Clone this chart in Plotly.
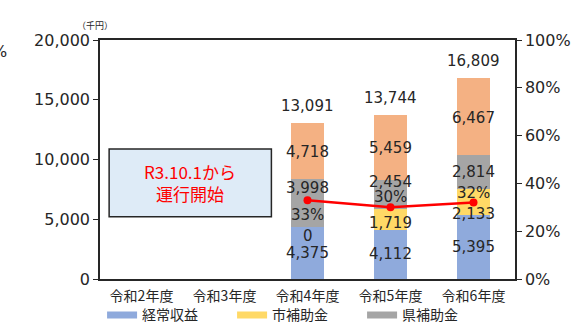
import plotly.graph_objects as go

# 年度カテゴリと収入内訳（千円）
years = ["令和2年度", "令和3年度", "令和4年度", "令和5年度", "令和6年度"]
bar_years = ["令和4年度", "令和5年度", "令和6年度"]
keijo = [4375, 4112, 5395]        # 経常収益
shi_hojo = [0, 1719, 2133]        # 市補助金
ken_hojo = [3998, 2454, 2814]     # 県補助金
sonota = [4718, 5459, 6467]       # その他
totals = [13091, 13744, 16809]
ratio = [0.33, 0.30, 0.32]        # 経常収益の割合

colors = {
    "経常収益": "#8FAADC",
    "市補助金": "#FFD966",
    "県補助金": "#A5A5A5",
    "その他": "#F4B183",
}
series = [("経常収益", keijo), ("市補助金", shi_hojo), ("県補助金", ken_hojo), ("その他", sonota)]

JP = "Noto Sans CJK JP"
NUM = "DejaVu Sans, Noto Sans CJK JP"
TXT = "#262626"

fig = go.Figure()
for name, vals in series:
    fig.add_trace(go.Bar(
        x=bar_years, y=vals, name=name, marker_color=colors[name],
        marker_line_width=0, width=0.39, showlegend=False, hoverinfo="skip",
    ))

fig.add_trace(go.Scatter(
    x=bar_years, y=ratio, yaxis="y2", mode="lines+markers",
    line=dict(color="#FF0000", width=2.5), marker=dict(color="#FF0000", size=8),
    showlegend=False, hoverinfo="skip",
))

# 凡例用（帯状の記号）
for name in ["経常収益", "市補助金", "県補助金"]:
    fig.add_trace(go.Scatter(
        x=[None], y=[None], mode="lines", name=name,
        line=dict(color=colors[name], width=7), hoverinfo="skip",
    ))

# 各区分のラベル（縦方向の微調整はピクセル単位）
seg_shift = [
    [0, -9, 15, -1],
    [0, -3, 13, -1],
    [0, -12, 0, -1],
]
ann = []
for i, yr in enumerate(bar_years):
    base = 0
    for j, (name, vals) in enumerate(series):
        v = vals[i]
        ann.append(dict(
            x=yr, y=base + v / 2, text=f"{v:,}", showarrow=False,
            yshift=seg_shift[i][j], font=dict(size=15, color=TXT, family=NUM),
        ))
        base += v
    ann.append(dict(
        x=yr, y=totals[i], text=f"{totals[i]:,}", showarrow=False,
        yshift=17, font=dict(size=15, color=TXT, family=NUM),
    ))

pct_shift = [-15, 10, 10]
for i, yr in enumerate(bar_years):
    ann.append(dict(
        x=yr, y=ratio[i], yref="y2", text=f"{round(ratio[i] * 100)}%",
        showarrow=False, yshift=pct_shift[i],
        font=dict(size=15, color=TXT, family=NUM),
    ))

ann.append(dict(
    x=0.2174, y=0.402, xref="paper", yref="paper", xanchor="center", yanchor="middle",
    text="R3.10.1から<br>運行開始", align="center",
    showarrow=False, font=dict(size=17, color="#FF0000", family=JP),
))
ann.append(dict(
    x=-0.012, y=1.095, xref="paper", yref="paper", xanchor="center",
    text="（千円）", showarrow=False, font=dict(size=9, color=TXT, family=JP),
))
ann.append(dict(
    x=-0.242, y=1.0, xref="paper", yref="paper", xanchor="center",
    text="%", showarrow=False, font=dict(size=16, color=TXT, family=NUM),
))

fig.update_layout(
    width=583, height=323,
    margin=dict(l=100, r=68, t=40, b=44, autoexpand=False),
    paper_bgcolor="white", plot_bgcolor="white",
    barmode="stack",
    font=dict(family=JP, color=TXT),
    annotations=ann,
    shapes=[dict(
        type="rect", xref="paper", yref="paper",
        x0=0.022, x1=0.413, y0=0.260, y1=0.544,
        fillcolor="#DEEBF7", line=dict(color="#262626", width=1.5), layer="above",
    )],
    xaxis=dict(
        categoryorder="array", categoryarray=years, range=[-0.5, 4.5],
        showline=True, linecolor="#262626", linewidth=1.5, mirror=True,
        ticks="", ticklabelstandoff=3,
        tickfont=dict(size=14, color=TXT, family=JP), showgrid=False,
    ),
    yaxis=dict(
        range=[0, 20000], tickvals=[0, 5000, 10000, 15000, 20000],
        ticktext=["0", "5,000", "10,000", "15,000", "20,000"],
        showline=True, linecolor="#262626", linewidth=1.5, mirror=True,
        ticks="outside", ticklen=5, tickcolor="#262626",
        tickfont=dict(size=16, color=TXT, family=NUM), showgrid=False, zeroline=False,
    ),
    yaxis2=dict(
        overlaying="y", side="right", range=[0, 1],
        tickvals=[0, 0.2, 0.4, 0.6, 0.8, 1.0], tickformat=".0%",
        showline=True, linecolor="#262626", linewidth=1.5,
        ticks="outside", ticklen=5, tickcolor="#262626",
        tickfont=dict(size=16, color=TXT, family=NUM), showgrid=False, zeroline=False,
    ),
    legend=dict(
        orientation="h", x=0.005, xanchor="left", y=-0.085, yanchor="top",
        traceorder="normal", entrywidth=85, entrywidthmode="pixels", itemwidth=30,
        font=dict(size=14, color=TXT, family=JP), bgcolor="rgba(0,0,0,0)",
    ),
)

fig.write_html("out.html")
